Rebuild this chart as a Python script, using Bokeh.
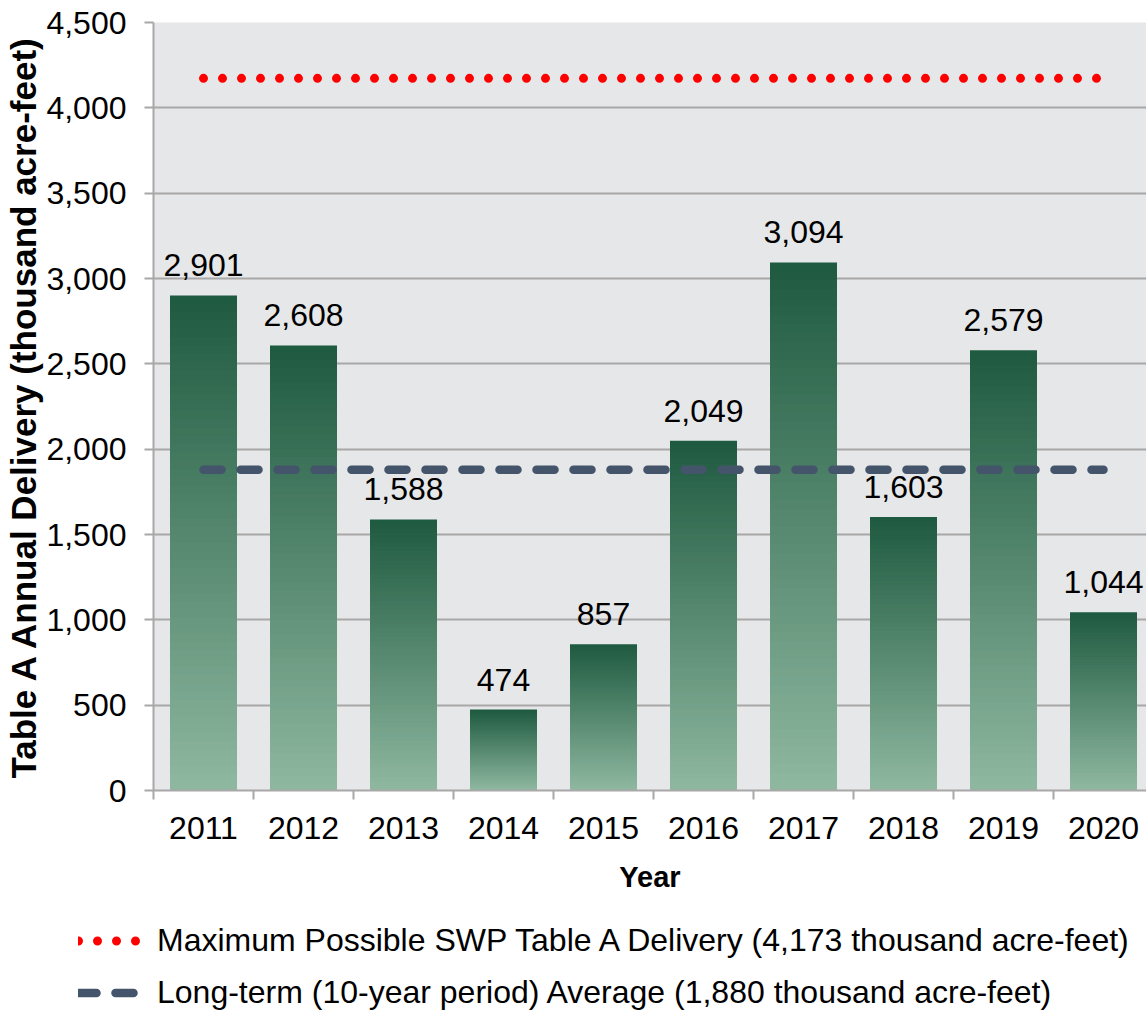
import numpy as np
from bokeh.plotting import figure
from bokeh.layouts import column
from bokeh.models import Range1d, FixedTicker, NumeralTickFormatter, Legend, LegendItem, ColumnDataSource
from bokeh.core.properties import value
from bokeh.embed import file_html
from bokeh.resources import INLINE

# ---- data ----
years = ["2011", "2012", "2013", "2014", "2015", "2016", "2017", "2018", "2019", "2020"]
deliveries = [2901, 2608, 1588, 474, 857, 2049, 3094, 1603, 2579, 1044]
max_possible = 4173
long_term_avg = 1880
y_ticks = [0, 500, 1000, 1500, 2000, 2500, 3000, 3500, 4000, 4500]

FONT = "Liberation Sans"
FS = "32px"
BAR_TOP = np.array([30, 90, 64])
BAR_BOTTOM = np.array([143, 184, 160])
GRID = "#A8A8A8"
RED = "#FF0000"
SLATE = "#44546A"

xs = list(range(len(years)))
bar_w = 0.67

FRAME_W = 993
p = figure(frame_width=FRAME_W, frame_height=768,
           x_range=Range1d(-0.5, -0.5 + FRAME_W / 100), y_range=Range1d(0, 4500),
           output_backend="svg", toolbar_location=None,
           min_border_left=153, min_border_right=0, min_border_top=22, min_border_bottom=116)
p.frame_align = False
p.background_fill_color = "#E6E7E8"
p.border_fill_color = "white"
p.outline_line_color = None
p.xgrid.visible = False
p.ygrid.ticker = FixedTicker(ticks=y_ticks)
p.ygrid.grid_line_color = GRID
p.ygrid.grid_line_width = 2

# ---- gradient bars (stacked slices of each bar) ----
N = 60
L, R, B, T, C = [], [], [], [], []
for x, v in zip(xs, deliveries):
    for k in range(N):
        t = (k + 0.5) / N
        rgb = (BAR_BOTTOM + (BAR_TOP - BAR_BOTTOM) * t).round().astype(int)
        L.append(x - bar_w / 2)
        R.append(x + bar_w / 2)
        B.append(v * k / N)
        T.append(v * min(k + 1.6, N) / N)
        C.append("#%02x%02x%02x" % tuple(rgb))
p.quad(source=ColumnDataSource(dict(left=L, right=R, bottom=B, top=T, color=C)),
       left="left", right="right", bottom="bottom", top="top",
       fill_color="color", line_color=None)

# ---- reference lines ----
MAX_STYLE = dict(line_color=RED, line_width=9, line_dash="0 19", line_cap="round")
AVG_STYLE = dict(line_color=SLATE, line_width=8.5, line_dash="18 19", line_cap="round")
p.line(x=[xs[0], xs[-1]], y=[max_possible, max_possible], **MAX_STYLE)
p.line(x=[xs[0], xs[-1]], y=[long_term_avg, long_term_avg], **AVG_STYLE)

# ---- data labels ----
p.text(x=xs, y=deliveries, text=[f"{v:,}" for v in deliveries],
       text_align="center", text_baseline="alphabetic", y_offset=-30,
       text_font=value(FONT), text_font_size=FS, text_color="black")

# ---- axes ----
xa = p.xaxis[0]
xa.ticker = FixedTicker(ticks=xs, minor_ticks=[x - 0.5 for x in xs] + [xs[-1] + 0.5])
xa.major_label_overrides = {x: y for x, y in zip(xs, years)}
xa.major_tick_out = 0
xa.major_tick_in = 0
xa.minor_tick_out = 9
xa.minor_tick_in = 0
xa.minor_tick_line_color = GRID
xa.minor_tick_line_width = 2
xa.axis_line_color = GRID
xa.axis_line_width = 2
xa.major_label_standoff = 17
xa.major_label_text_font = FONT
xa.major_label_text_font_size = FS
xa.major_label_text_color = "black"
xa.axis_label = "Year"
xa.axis_label_text_font = FONT
xa.axis_label_text_font_style = "bold"
xa.axis_label_text_font_size = "29px"
xa.axis_label_text_color = "black"
xa.axis_label_standoff = 19

ya = p.yaxis[0]
ya.ticker = FixedTicker(ticks=y_ticks)
ya.formatter = NumeralTickFormatter(format="0,0")
ya.major_tick_out = 9
ya.major_tick_in = 0
ya.minor_tick_line_color = None
ya.major_tick_line_color = GRID
ya.major_tick_line_width = 2
ya.axis_line_color = GRID
ya.axis_line_width = 2
ya.major_label_standoff = 18
ya.major_label_text_font = FONT
ya.major_label_text_font_size = FS
ya.major_label_text_color = "black"
ya.axis_label = "Table A Annual Delivery (thousand acre-feet)"
ya.axis_label_text_font = FONT
ya.axis_label_text_font_style = "bold"
ya.axis_label_text_font_size = "35px"
ya.axis_label_text_color = "black"
ya.axis_label_standoff = 0

# ---- legend strip below the chart ----
leg = figure(width=1146, height=105, x_range=Range1d(0, 1), y_range=Range1d(0, 1),
             output_backend="svg", toolbar_location=None,
             x_axis_location=None, y_axis_location=None, min_border=0)
leg.frame_align = False
leg.grid.visible = False
leg.outline_line_color = None
leg.background_fill_color = "white"
leg.border_fill_color = "white"
# legend proxies: same lines, outside this strip's visible range
lr_max = leg.line(x=[xs[0], xs[-1]], y=[max_possible, max_possible], **MAX_STYLE)
lr_avg = leg.line(x=[xs[0], xs[-1]], y=[long_term_avg, long_term_avg], **AVG_STYLE)

legend = Legend(items=[
    LegendItem(label=f"Maximum Possible SWP Table A Delivery ({max_possible:,} thousand acre-feet)", renderers=[lr_max]),
    LegendItem(label=f"Long-term (10-year period) Average ({long_term_avg:,} thousand acre-feet)", renderers=[lr_avg]),
], location=(78, 0), orientation="vertical", margin=0, padding=0, spacing=15,
   glyph_width=62, glyph_height=37, label_height=37, label_standoff=17,
   label_text_font=FONT, label_text_font_size=FS, label_text_color="black",
   border_line_color=None, background_fill_alpha=0)
leg.add_layout(legend)

layout = column(p, leg, spacing=0)
open("out.html", "w").write(file_html(layout, INLINE))
